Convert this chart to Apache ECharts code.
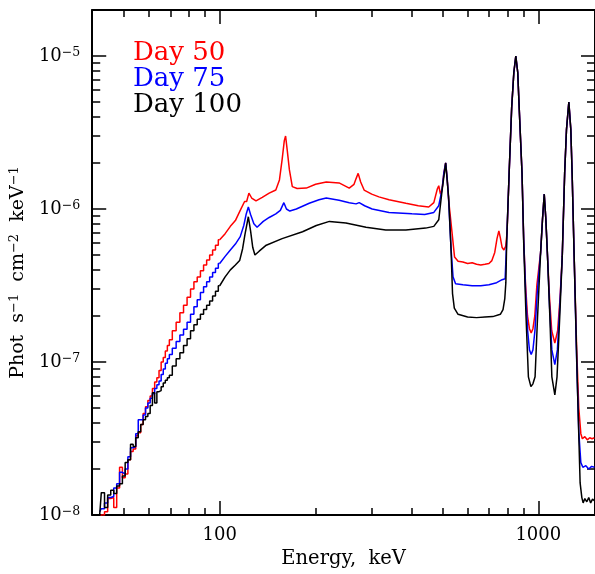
<!DOCTYPE html>
<html>
<head>
<meta charset="utf-8">
<script src="https://cdn.jsdelivr.net/npm/echarts@6/dist/echarts.min.js"></script>
<style>
html, body { margin: 0; padding: 0; background: #fff; }
#chart { width: 595px; height: 574px; }
</style>
</head>
<body>
<div id="chart"></div>
<script>
// low-energy bins (step histogram part), keV
var lowE = [42, 43, 44, 45, 46, 47, 48, 49, 50, 51, 52, 53, 54, 55, 56, 57, 58, 59, 60,
    61, 62, 63, 64, 65, 66, 67, 68, 69, 70, 72, 74, 76, 78, 80, 82, 84, 86, 88, 90,
    92, 94, 96, 98, 100];
var day50Low = [0.9e-8, 1.0e-8, 1.05e-8, 1.28e-8, 1.3e-8, 1.12e-8, 1.5e-8, 2.05e-8, 1.75e-8, 1.85e-8,
    2.3e-8, 2.6e-8, 2.7e-8, 3.3e-8, 3.45e-8, 3.9e-8, 4.6e-8, 5.1e-8, 5.6e-8,
    6.0e-8, 6.7e-8, 7.4e-8, 7.9e-8, 8.8e-8, 1.0e-7, 1.07e-7, 1.18e-7, 1.28e-7, 1.4e-7,
    1.6e-7, 1.82e-7, 2.1e-7, 2.35e-7, 2.65e-7, 3.0e-7, 3.35e-7, 3.6e-7, 3.95e-7, 4.3e-7,
    4.65e-7, 5.0e-7, 5.4e-7, 5.8e-7, 6.3e-7];
var day75Low = [1.05e-8, 1.1e-8, 1.2e-8, 1.3e-8, 1.32e-8, 1.5e-8, 1.6e-8, 1.9e-8, 1.85e-8, 2.0e-8,
    2.4e-8, 2.75e-8, 2.8e-8, 3.4e-8, 4.2e-8, 4.2e-8, 4.5e-8, 5.0e-8, 5.4e-8,
    5.8e-8, 6.2e-8, 6.7e-8, 7.1e-8, 7.5e-8, 8.3e-8, 9.0e-8, 9.8e-8, 1.05e-7, 1.12e-7,
    1.23e-7, 1.36e-7, 1.5e-7, 1.64e-7, 1.82e-7, 2.05e-7, 2.3e-7, 2.55e-7, 2.85e-7, 3.1e-7,
    3.35e-7, 3.6e-7, 3.85e-7, 4.1e-7, 4.4e-7];
var day100Low = [1.0e-8, 1.4e-8, 1.12e-8, 1.35e-8, 1.45e-8, 1.38e-8, 1.55e-8, 1.6e-8, 1.8e-8, 2.2e-8,
    2.3e-8, 2.9e-8, 2.8e-8, 3.2e-8, 3.5e-8, 3.9e-8, 4.2e-8, 4.4e-8, 4.6e-8,
    5.2e-8, 6.3e-8, 5.4e-8, 6.4e-8, 6.5e-8, 6.9e-8, 7.3e-8, 7.6e-8, 7.9e-8, 8.2e-8,
    9.4e-8, 1.05e-7, 1.15e-7, 1.28e-7, 1.42e-7, 1.6e-7, 1.75e-7, 1.9e-7, 2.05e-7, 2.2e-7,
    2.35e-7, 2.5e-7, 2.7e-7, 2.9e-7, 3.15e-7];

// main spectra above 100 keV
var day50E = [100, 104, 108, 112, 116, 119.7, 121.5, 123.5, 126, 130, 136, 143, 150, 154, 157, 159.5, 161, 163,
    165.5, 169, 175, 187, 200, 216, 237, 255, 264, 268, 272, 277, 284, 300, 316, 340, 384, 420, 453,
    470, 482, 487, 493, 499, 505, 512, 518, 523, 535, 546, 560, 580, 600, 620, 640, 660, 680, 700,
    715, 730, 742, 752, 760, 770, 780, 790, 798, 810, 825, 838, 850, 862, 871, 889, 900, 912, 925,
    938, 950, 962, 975, 990, 1017, 1031, 1044, 1056, 1069, 1085, 1102, 1127, 1150, 1170, 1189, 1210,
    1226, 1247, 1265, 1277, 1296, 1320, 1340, 1360, 1375, 1400, 1425, 1450, 1475, 1500];
var day50F = [6.3e-7, 6.9e-7, 7.7e-7, 8.4e-7, 9.8e-7, 1.12e-6, 1.12e-6, 1.27e-6, 1.18e-6, 1.13e-6, 1.19e-6,
    1.27e-6, 1.33e-6, 1.55e-6, 2.1e-6, 2.8e-6, 3.0e-6, 2.4e-6,
    1.8e-6, 1.4e-6, 1.36e-6, 1.37e-6, 1.45e-6, 1.5e-6, 1.48e-6, 1.37e-6, 1.45e-6, 1.58e-6, 1.71e-6, 1.5e-6,
    1.33e-6, 1.25e-6, 1.2e-6, 1.15e-6, 1.09e-6, 1.05e-6, 1.03e-6,
    1.1e-6, 1.35e-6, 1.42e-6, 1.25e-6, 1.35e-6, 1.7e-6, 2.0e-6, 1.55e-6, 1.15e-6, 7.3e-7, 4.85e-7, 4.55e-7,
    4.5e-7, 4.4e-7, 4.45e-7, 4.35e-7, 4.3e-7, 4.35e-7, 4.4e-7,
    4.6e-7, 5.2e-7, 6.4e-7, 7.2e-7, 6.5e-7, 5.6e-7, 5.4e-7, 5.7e-7, 7.0e-7, 1.72e-6, 4.6e-6, 7.8e-6, 1.0e-5,
    7.8e-6, 4.6e-6, 1.72e-6, 6.3e-7, 3.2e-7, 2.0e-7,
    1.65e-7, 1.55e-7, 1.65e-7, 2.0e-7, 3.2e-7, 5.2e-7, 8.6e-7, 1.25e-6, 8.6e-7, 4.9e-7, 2.6e-7, 1.6e-7,
    1.33e-7, 1.6e-7, 2.6e-7, 4.9e-7, 1.72e-6,
    3.3e-6, 5.0e-6, 3.3e-6, 1.72e-6, 4.9e-7, 1.2e-7, 5.0e-8, 3.4e-8, 3.15e-8, 3.25e-8, 3.1e-8, 3.2e-8,
    3.15e-8, 3.2e-8];

var day75E = [100, 104, 108, 112, 116, 119, 121, 123, 125, 128, 131, 137, 143, 150, 155, 159, 162, 166, 174,
    191, 205, 216, 237, 255, 268, 274, 285, 301, 340, 401, 440, 470, 487, 499, 505, 512, 518, 523, 532,
    540, 550, 580, 620, 660, 700, 740, 770, 787, 796, 810, 825, 838, 850, 862, 871, 889, 900, 913, 926,
    938, 950, 962, 976, 992, 1017, 1031, 1044, 1056, 1069, 1085, 1103, 1127, 1148, 1168, 1189, 1210,
    1226, 1247, 1265, 1277, 1296, 1320, 1340, 1360, 1380, 1410, 1440, 1470, 1500];
var day75F = [4.4e-7, 4.9e-7, 5.4e-7, 5.9e-7, 6.6e-7, 7.8e-7, 9.2e-7, 1.03e-6, 9.2e-7, 8.0e-7, 7.6e-7,
    8.3e-7, 8.8e-7, 9.3e-7, 9.8e-7, 1.1e-6, 1.0e-6, 9.7e-7, 1.0e-6,
    1.09e-6, 1.15e-6, 1.18e-6, 1.14e-6, 1.1e-6, 1.08e-6, 1.1e-6, 1.05e-6, 1.0e-6, 9.5e-7, 9.3e-7, 9.2e-7,
    9.5e-7, 1.05e-6, 1.35e-6, 1.7e-6, 2.0e-6, 1.55e-6, 1.15e-6, 5.6e-7,
    3.6e-7, 3.25e-7, 3.2e-7, 3.15e-7, 3.15e-7, 3.2e-7, 3.3e-7, 3.45e-7, 3.5e-7, 6.3e-7, 1.72e-6, 4.6e-6,
    7.8e-6, 1.0e-5, 7.8e-6, 4.6e-6, 1.72e-6, 6.3e-7, 2.8e-7, 1.6e-7,
    1.2e-7, 1.12e-7, 1.2e-7, 1.6e-7, 2.8e-7, 5.2e-7, 8.6e-7, 1.25e-6, 8.6e-7, 4.9e-7, 2.3e-7, 1.2e-7,
    9.6e-8, 1.2e-7, 2.3e-7, 4.9e-7, 1.72e-6,
    3.3e-6, 5.0e-6, 3.3e-6, 1.72e-6, 4.9e-7, 1.0e-7, 3.5e-8, 2.2e-8, 2.05e-8, 2.1e-8, 2.0e-8, 2.08e-8,
    2.05e-8];

var day100E = [100, 104, 108, 112, 115.5, 118, 120, 123, 125, 127, 129, 133, 140, 157, 182, 201, 221, 249,
    288, 332, 384, 443, 470, 487, 499, 512, 523, 532, 538, 545, 560, 600, 640, 680, 720, 760, 775,
    785, 791, 796, 810, 825, 838, 850, 862, 871, 889, 900, 915, 931, 948, 962, 977, 995, 1017, 1031,
    1044, 1056, 1069, 1087, 1103, 1127, 1145, 1168, 1189, 1210, 1226, 1247, 1265, 1277, 1296, 1326,
    1353, 1370, 1383, 1400, 1420, 1440, 1460, 1480, 1500];
var day100F = [3.15e-7, 3.6e-7, 4.0e-7, 4.3e-7, 4.6e-7, 5.5e-7, 6.8e-7, 8.9e-7, 7.2e-7, 5.6e-7, 5.0e-7,
    5.3e-7, 5.8e-7, 6.4e-7, 7.1e-7, 7.8e-7, 8.3e-7, 8.1e-7,
    7.6e-7, 7.3e-7, 7.3e-7, 7.5e-7, 7.7e-7, 8.5e-7, 1.33e-6, 2.0e-6, 1.2e-6, 5.6e-7, 2.8e-7, 2.25e-7,
    2.05e-7, 1.97e-7, 1.95e-7, 1.97e-7, 1.98e-7, 2.05e-7, 2.2e-7,
    2.6e-7, 3.3e-7, 6.3e-7, 1.72e-6, 4.6e-6, 7.8e-6, 1.0e-5, 7.8e-6, 4.6e-6, 1.72e-6, 6.0e-7, 2.0e-7,
    8.0e-8, 6.9e-8, 7.2e-8, 8.0e-8, 2.0e-7, 5.2e-7, 8.6e-7,
    1.25e-6, 8.6e-7, 4.9e-7, 2.0e-7, 8.0e-8, 6.1e-8, 8.0e-8, 2.0e-7, 4.9e-7, 1.72e-6, 3.3e-6, 5.0e-6,
    3.3e-6, 1.72e-6, 4.9e-7, 7.3e-8,
    1.62e-8, 1.3e-8, 1.2e-8, 1.28e-8, 1.22e-8, 1.3e-8, 1.2e-8, 1.27e-8, 1.24e-8];

// tick positions
var xMajor = [100, 1000];
var xMinor = [50, 60, 70, 80, 90, 200, 300, 400, 500, 600, 700, 800, 900];
var yMajor = [1e-8, 1e-7, 1e-6, 1e-5];
var yMinor = [2e-8, 3e-8, 4e-8, 5e-8, 6e-8, 7e-8, 8e-8, 9e-8,
    2e-7, 3e-7, 4e-7, 5e-7, 6e-7, 7e-7, 8e-7, 9e-7,
    2e-6, 3e-6, 4e-6, 5e-6, 6e-6, 7e-6, 8e-6, 9e-6];

var font = 'DejaVu Serif';
var xMin = Math.log10(39.8), xMax = 3.178;
var yMin = -8, yMax = -8 + 505 / 153;

function lg(arr) { return arr.map(function (v) { return Math.log10(v); }); }
function pairs(E, F) {
    return E.map(function (e, i) { return [Math.log10(e), Math.log10(F[i])]; });
}

function xAx(pos, vals, len, labels) {
    return {
        type: 'value', position: pos, min: xMin, max: xMax,
        axisLine: { show: len > 10, onZero: false, lineStyle: { color: '#000', width: 2 } },
        axisTick: { inside: true, length: len, customValues: lg(vals), lineStyle: { color: '#000', width: 1.5 } },
        axisLabel: labels ? {
            customValues: lg(vals), margin: 11, color: '#000', fontFamily: font, fontSize: 18,
            formatter: function (v) { return String(Math.round(Math.pow(10, v))); }
        } : { show: false },
        splitLine: { show: false }
    };
}
function yAx(pos, vals, len, labels) {
    return {
        type: 'value', position: pos, min: yMin, max: yMax,
        axisLine: { show: len > 10, onZero: false, lineStyle: { color: '#000', width: 2 } },
        axisTick: { inside: true, length: len, customValues: lg(vals), lineStyle: { color: '#000', width: 1.5 } },
        axisLabel: labels ? {
            customValues: lg(vals), margin: 12, color: '#000',
            formatter: function (v) { return '{b|10}{s|\u2212' + (-Math.round(v)) + '}'; },
            rich: {
                b: { fontFamily: font, fontSize: 18, color: '#000', lineHeight: 20 },
                s: { fontFamily: font, fontSize: 12.5, color: '#000', lineHeight: 12, verticalAlign: 'top' }
            }
        } : { show: false },
        splitLine: { show: false }
    };
}

var xAxes = [xAx('bottom', xMajor, 14, true), xAx('bottom', xMinor, 7, false),
    xAx('top', xMajor, 14, false), xAx('top', xMinor, 7, false)];
xAxes[0].name = 'Energy,  keV';
xAxes[0].nameLocation = 'middle';
xAxes[0].nameGap = 30;
xAxes[0].nameTextStyle = { fontFamily: font, fontSize: 19.5, color: '#000' };

var yAxes = [yAx('left', yMajor, 14, true), yAx('left', yMinor, 8, false),
    yAx('right', yMajor, 14, false), yAx('right', yMinor, 8, false)];
yAxes[0].name = '{n|Phot  s}{s|\u22121}{n|  cm}{s|\u22122}{n|  keV}{s|\u22121}';
yAxes[0].nameLocation = 'middle';
yAxes[0].nameGap = 62;
yAxes[0].nameTextStyle = {
    padding: [0, 20, 0, 0],
    rich: {
        n: { fontFamily: font, fontSize: 19, color: '#000', lineHeight: 21 },
        s: { fontFamily: font, fontSize: 13, color: '#000', lineHeight: 13, verticalAlign: 'top' }
    }
};

function line(name, color, data, step) {
    return {
        name: name, type: 'line', data: data, step: step || false,
        showSymbol: false, symbol: 'none', animation: false,
        lineStyle: { color: color, width: 1.5 }, itemStyle: { color: color }
    };
}

var option = {
    backgroundColor: '#fff',
    grid: { left: 92, right: -2, top: 10, bottom: 59 },
    xAxis: xAxes,
    yAxis: yAxes,
    legend: {
        orient: 'vertical', left: 128, top: 40, padding: 0, itemGap: 0,
        icon: 'none', itemWidth: 0, itemHeight: 0, selectedMode: false,
        textStyle: { fontFamily: font, fontSize: 26, lineHeight: 25.4 },
        data: [
            { name: 'Day 50', textStyle: { color: '#ff0000' } },
            { name: 'Day 75', textStyle: { color: '#0000ff' } },
            { name: 'Day 100', textStyle: { color: '#000000' } }
        ]
    },
    series: [
        line('Day 50', '#ff0000', pairs(lowE, day50Low), 'middle'),
        line('Day 50', '#ff0000', pairs(day50E, day50F)),
        line('Day 75', '#0000ff', pairs(lowE, day75Low), 'middle'),
        line('Day 75', '#0000ff', pairs(day75E, day75F)),
        line('Day 100', '#000000', pairs(lowE, day100Low), 'middle'),
        line('Day 100', '#000000', pairs(day100E, day100F))
    ]
};

var myChart = echarts.init(document.getElementById('chart'));
myChart.setOption(option);
</script>
</body>
</html>
